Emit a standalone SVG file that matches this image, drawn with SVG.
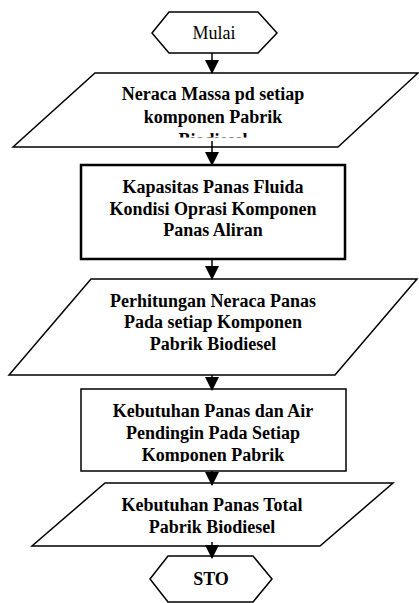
<svg xmlns="http://www.w3.org/2000/svg" width="419" height="603" viewBox="0 0 419 603">
<style>
.sh{fill:#fff;stroke:#000;stroke-width:1.5}
.thick{stroke-width:2.5}
.t{font-family:"Liberation Serif","Times New Roman",serif;font-size:18px;font-weight:bold;text-anchor:middle;fill:#000}
.r{font-weight:normal}
.c{stroke:#000;stroke-width:1.5;fill:none;marker-end:url(#ah)}
</style>
<defs>
<marker id="ah" markerUnits="userSpaceOnUse" markerWidth="14" markerHeight="16" refX="13" refY="7" orient="auto">
<path d="M0,0 L14,7 L0,14 Z" fill="#000"/>
</marker>
<clipPath id="c1"><rect x="0" y="60" width="419" height="77.5"/></clipPath>
<clipPath id="c4"><rect x="0" y="380" width="419" height="82"/></clipPath>
</defs>
<g id="start">
<polygon class="sh" points="152,33 169,12 258,12 277,33 258,53 169,53"/>
<text class="t r" x="214" y="39">Mulai</text>
</g>
<g id="n1">
<polygon class="sh" points="95,73 418,73 338,147 13,147"/>
<g clip-path="url(#c1)">
<text class="t" x="213" y="100">Neraca Massa pd setiap</text>
<text class="t" x="213" y="123">komponen Pabrik</text>
<text class="t" x="213" y="146">Biodiesel</text>
</g>
</g>
<g id="n2">
<rect class="sh thick" x="81" y="165" width="264" height="94"/>
<text class="t" x="213" y="193">Kapasitas Panas Fluida</text>
<text class="t" x="213" y="215">Kondisi Oprasi Komponen</text>
<text class="t" x="213" y="236">Panas Aliran</text>
</g>
<g id="n3">
<polygon class="sh" points="91,279 417,279 335,375 9,375"/>
<text class="t" x="213" y="307">Perhitungan Neraca Panas</text>
<text class="t" x="213" y="328">Pada setiap Komponen</text>
<text class="t" x="213" y="350">Pabrik Biodiesel</text>
</g>
<g id="n4">
<rect class="sh" x="81" y="389" width="265" height="82"/>
<g clip-path="url(#c4)">
<text class="t" x="213" y="417">Kebutuhan Panas dan Air</text>
<text class="t" x="213" y="439">Pendingin Pada Setiap</text>
<text class="t" x="213" y="461">Komponen Pabrik</text>
</g>
</g>
<g id="n5">
<polygon class="sh" points="105,483 393,483 320,546 32,546"/>
<text class="t" x="212" y="511">Kebutuhan Panas Total</text>
<text class="t" x="212" y="533">Pabrik Biodiesel</text>
</g>
<g id="end">
<polygon class="sh" points="150,579 168,556 253,556 272,579 253,602 168,602"/>
<text class="t" x="211" y="585">STO</text>
</g>
<g id="connectors">
<line class="c" x1="212" y1="53" x2="212" y2="73"/>
<line class="c" x1="212" y1="141" x2="212" y2="165"/>
<line class="c" x1="212" y1="259" x2="212" y2="279"/>
<line class="c" x1="212" y1="375" x2="212" y2="390"/>
<line class="c" x1="212" y1="471" x2="212" y2="485"/>
<line class="c" x1="212" y1="542" x2="212" y2="558"/>
</g>
</svg>
